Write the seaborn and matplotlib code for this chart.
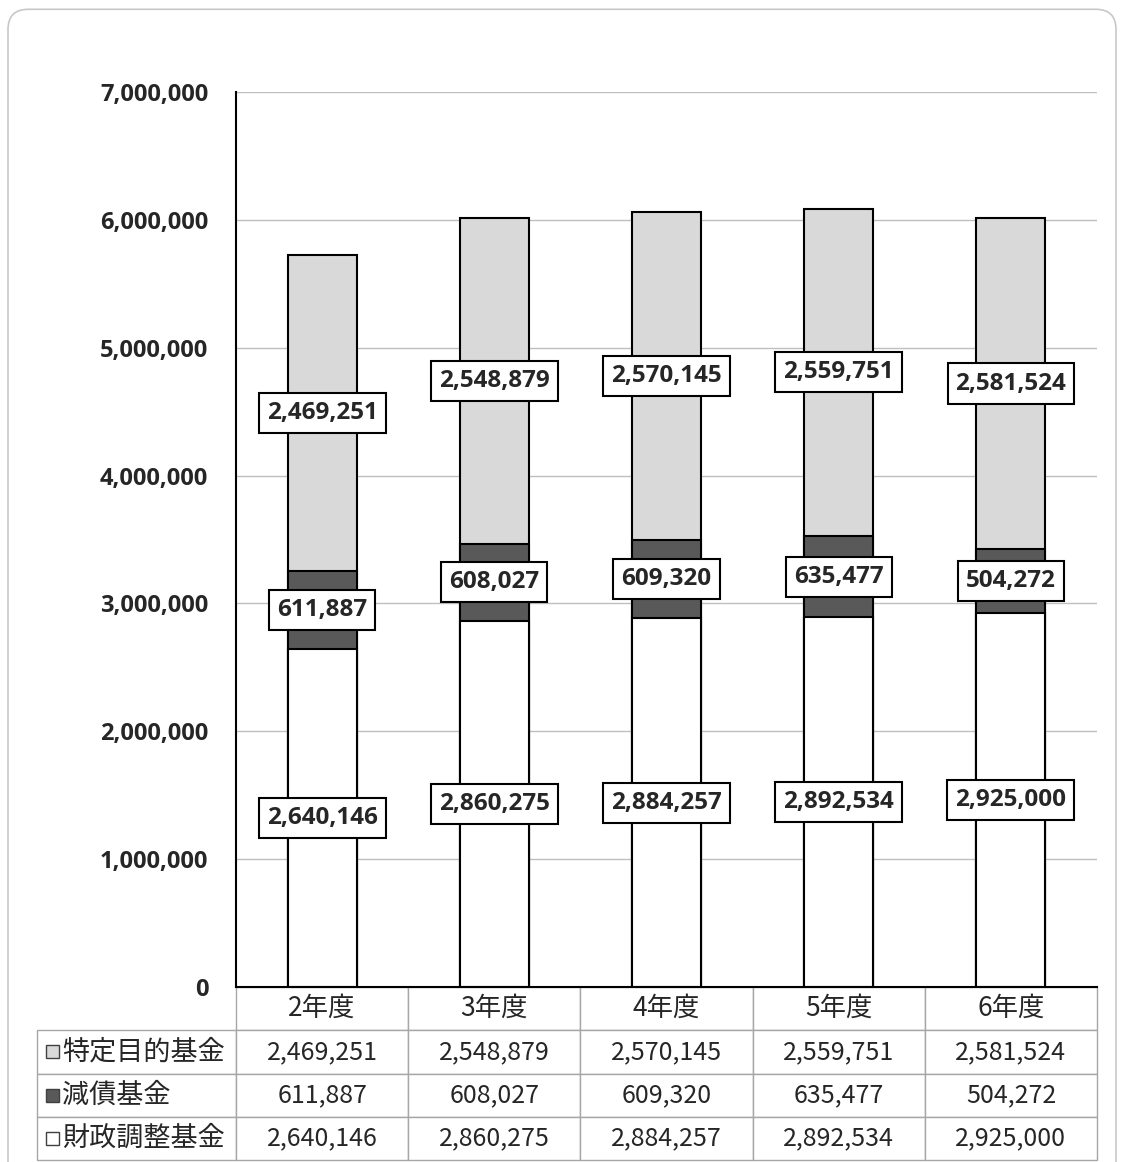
import seaborn as sns
from matplotlib import pyplot as plt
from matplotlib.patches import FancyBboxPatch, Rectangle
from matplotlib.table import Table
from matplotlib.ticker import FuncFormatter
import pandas as pd

# データ
years = ['2年度', '3年度', '4年度', '5年度', '6年度']
tokutei = [2469251, 2548879, 2570145, 2559751, 2581524]
gensai = [611887, 608027, 609320, 635477, 504272]
zaisei = [2640146, 2860275, 2884257, 2892534, 2925000]
series_names = ['特定目的基金', '減債基金', '財政調整基金']
colors = ['#d9d9d9', '#595959', '#ffffff']

sns.set_style('white')
plt.rcParams['font.family'] = ['Open Sans', 'Noto Sans CJK JP', 'DejaVu Sans']

df = pd.DataFrame({'年度': years, '特定目的基金': tokutei,
                   '減債基金': gensai, '財政調整基金': zaisei})
df['bottom'] = df['財政調整基金']
df['middle'] = df['bottom'] + df['減債基金']
df['top'] = df['middle'] + df['特定目的基金']

fig = plt.figure(figsize=(11.24, 11.62), dpi=100)
ax = fig.add_axes([236 / 1124, 175 / 1162, 861 / 1124, 895 / 1162])

# 積み上げ棒 (累積値を大きい順に重ねる)
for col, c in zip(['top', 'middle', 'bottom'], colors):
    sns.barplot(data=df, x='年度', y=col, color=c, saturation=1,
                edgecolor='black', linewidth=1.5, width=0.4, ax=ax)

ax.set_ylim(0, 7000000)
ax.set_yticks(range(0, 7000001, 1000000))
ax.yaxis.set_major_formatter(FuncFormatter(lambda v, p: f'{int(v):,}'))
ax.tick_params(axis='y', direction='in', length=6, width=1.5, pad=20,
               labelsize=17)
for lab in ax.get_yticklabels():
    lab.set_fontweight('bold')
ax.tick_params(axis='x', bottom=False, labelbottom=False)
ax.set_xlabel('')
ax.set_ylabel('')
ax.yaxis.grid(True, color='#bfbfbf', linewidth=1)
ax.set_axisbelow(True)
for s in ['top', 'right']:
    ax.spines[s].set_visible(False)
for s in ['left', 'bottom']:
    ax.spines[s].set_color('black')
    ax.spines[s].set_linewidth(1.5)
ax.spines['bottom'].set_zorder(5)

# データラベル
for i in range(len(years)):
    mids = [df['bottom'][i] / 2,
            (df['bottom'][i] + df['middle'][i]) / 2,
            (df['middle'][i] + df['top'][i]) / 2]
    vals = [zaisei[i], gensai[i], tokutei[i]]
    for m, v in zip(mids, vals):
        ax.text(i, m, f'{v:,}', ha='center', va='center', fontsize=17.5,
                fontweight='bold', zorder=6,
                bbox=dict(boxstyle='square,pad=0.33', fc='white',
                          ec='black', lw=1.5))

# データテーブル
lab_w = 199 / 861
col_w = 1 / 5
row_h = 43.3 / 895
tbl = Table(ax, bbox=[-lab_w, -4 * row_h, 1 + lab_w, 4 * row_h])
tbl.auto_set_font_size(False)
edge = '#a6a6a6'
c0 = tbl.add_cell(0, 0, width=lab_w, height=row_h, text='', loc='center')
c0.visible_edges = 'open'
header_cells = []
for j, y in enumerate(years):
    header_cells.append(tbl.add_cell(0, j + 1, width=col_w, height=row_h,
                                     text=y, loc='center', edgecolor=edge))
label_cells = []
rows = [tokutei, gensai, zaisei]
for r, (name, vals) in enumerate(zip(series_names, rows)):
    cell = tbl.add_cell(r + 1, 0, width=lab_w, height=row_h, text=name,
                        loc='left', edgecolor=edge)
    cell.PAD = 0.125
    label_cells.append(cell)
    for j, v in enumerate(vals):
        tbl.add_cell(r + 1, j + 1, width=col_w, height=row_h,
                     text=f'{v:,}', loc='center', edgecolor=edge)
for cell in tbl.get_celld().values():
    cell.set_linewidth(1)
    cell.get_text().set_fontsize(18)
    cell.get_text().set_fontfamily(['Noto Sans CJK JP', 'DejaVu Sans'])
for cell in header_cells:
    cell.get_text().set_fontsize(19)
for cell in label_cells:
    cell.get_text().set_fontsize(19.5)
tbl.set_clip_on(False)
ax.add_table(tbl)

# 凡例キー
for r, c in enumerate(colors):
    yc = -(r + 1.5) * row_h
    ax.add_patch(Rectangle((-(236 - 46) / 861, yc - 6.5 / 895), 13 / 861,
                           13 / 895, transform=ax.transAxes, fc=c,
                           ec='#404040', lw=1, clip_on=False, zorder=7))

# 外枠
frame = FancyBboxPatch((8 / 1124, -0.05), 1108 / 1124, 1.042,
                       boxstyle='round,pad=0,rounding_size=0.018',
                       mutation_aspect=1124 / 1162, transform=fig.transFigure,
                       fc='none', ec='#c8c8c8', lw=1.2)
fig.patches.append(frame)

fig.savefig('out.png', dpi=100)
